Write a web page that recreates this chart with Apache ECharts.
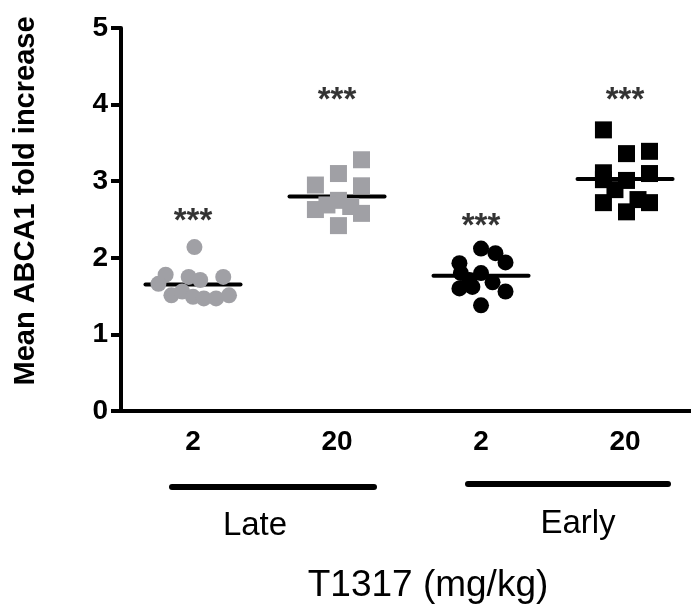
<!DOCTYPE html>
<html>
<head>
<meta charset="utf-8">
<script src="https://cdn.jsdelivr.net/npm/echarts@6/dist/echarts.min.js"></script>
<style>
  html, body { margin: 0; padding: 0; background: #fff; }
  #chart { width: 691px; height: 605px; }
</style>
</head>
<body>
<div id="chart"></div>
<script>
// Dose labels under each column and the two treatment groups
const doseLabels = ['2', '20', '2', '20'];
const groupLabels = ['Late', 'Early'];
const yTicks = [0, 1, 2, 3, 4, 5];

// ABCA1 fold increase per animal, with horizontal spread within each column
const late2Values  = [2.14, 1.78, 1.75, 1.71, 1.75, 1.66, 1.51, 1.56, 1.49, 1.47, 1.47, 1.51];
const late2Spread  = [0.01, -0.19, -0.03, 0.05, 0.21, -0.24, -0.15, -0.075, 0.0, 0.075, 0.16, 0.25];
const late20Values = [3.28, 3.10, 2.95, 2.94, 2.75, 2.63, 2.69, 2.67, 2.58, 2.42];
const late20Spread = [0.17, 0.01, -0.15, 0.17, 0.01, -0.15, -0.07, 0.095, 0.17, 0.01];
const early2Values = [2.12, 2.06, 1.94, 1.93, 1.80, 1.80, 1.71, 1.60, 1.62, 1.68, 1.56, 1.38];
const early2Spread = [0.0, 0.10, 0.17, -0.15, 0.0, -0.14, -0.08, -0.15, -0.06, 0.08, 0.17, 0.0];
const early20Values = [3.67, 3.36, 3.39, 3.11, 3.10, 3.01, 3.02, 2.89, 2.76, 2.72, 2.72, 2.60];
const early20Spread = [-0.15, 0.01, 0.17, -0.15, 0.17, 0.01, -0.15, -0.07, 0.09, -0.15, 0.17, 0.01];

// Significance marks above each column
const sigText = ['***', '***', '***', '***'];
const sigLevel = [2.59, 4.16, 2.52, 4.16];

const columns = [
  { values: late2Values,  spread: late2Spread,  symbol: 'circle', color: '#a0a0a5' },
  { values: late20Values, spread: late20Spread, symbol: 'rect',   color: '#a0a0a5' },
  { values: early2Values, spread: early2Spread, symbol: 'circle', color: '#000000' },
  { values: early20Values, spread: early20Spread, symbol: 'rect', color: '#000000' }
];

const FONT = '"Liberation Sans", Arial, sans-serif';
const chart = echarts.init(document.getElementById('chart'));

const series = [];
columns.forEach((col, i) => {
  const mean = col.values.reduce((a, b) => a + b, 0) / col.values.length;
  // mean bar
  series.push({
    type: 'line',
    data: [[i - 0.33, mean], [i + 0.33, mean]],
    symbol: 'none',
    lineStyle: { color: '#000', width: 4, cap: 'round' },
    z: 2,
    silent: true
  });
  // individual animals
  series.push({
    type: 'scatter',
    data: col.values.map((v, k) => [i + col.spread[k], v]),
    symbol: col.symbol,
    symbolSize: col.symbol === 'rect' ? 17 : 16,
    itemStyle: { color: col.color, opacity: 1 },
    z: 3,
    silent: true
  });
});

// significance asterisks
series.push({
  type: 'scatter',
  data: sigLevel.map((v, i) => [i, v]),
  symbolSize: 0,
  silent: true,
  label: {
    show: true,
    position: 'inside',
    offset: [0, 9],
    formatter: p => sigText[p.dataIndex],
    fontFamily: FONT,
    fontWeight: 'bold',
    fontSize: 33,
    color: '#000'
  }
});

chart.setOption({
  animation: false,
  backgroundColor: '#fff',
  grid: { left: 121, right: 0, top: 28, bottom: 194, containLabel: false },
  xAxis: {
    type: 'value',
    min: -0.5,
    max: 3.458,
    axisLine: { show: true, onZero: false, lineStyle: { color: '#000', width: 4 } },
    axisTick: { show: false },
    splitLine: { show: false },
    axisLabel: {
      customValues: [0, 1, 2, 3],
      formatter: v => doseLabels[Math.round(v)],
      fontFamily: FONT,
      fontWeight: 'bold',
      fontSize: 28,
      color: '#000',
      margin: 17
    }
  },
  yAxis: {
    type: 'value',
    min: 0,
    max: 5,
    interval: 1,
    axisLine: { show: true, onZero: false, lineStyle: { color: '#000', width: 4 } },
    axisTick: { show: true, length: 10, lineStyle: { color: '#000', width: 4 } },
    splitLine: { show: false },
    axisLabel: {
      formatter: v => String(yTicks[Math.round(v)]),
      fontFamily: FONT,
      fontWeight: 'bold',
      fontSize: 28,
      color: '#000',
      margin: 13
    }
  },
  series: series,
  graphic: [
    { type: 'text', x: 26, y: 201, rotation: Math.PI / 2,
      style: { text: 'Mean ABCA1 fold increase', font: 'bold 29px ' + FONT, fill: '#000', align: 'center', verticalAlign: 'middle' } },
    { type: 'line', shape: { x1: 172, y1: 487, x2: 374, y2: 487 },
      style: { stroke: '#000', lineWidth: 6, lineCap: 'round' } },
    { type: 'line', shape: { x1: 468, y1: 484, x2: 668, y2: 484 },
      style: { stroke: '#000', lineWidth: 6, lineCap: 'round' } },
    { type: 'text', x: 255, y: 526,
      style: { text: groupLabels[0], font: '33px ' + FONT, fill: '#000', align: 'center', verticalAlign: 'middle' } },
    { type: 'text', x: 578, y: 524,
      style: { text: groupLabels[1], font: '33px ' + FONT, fill: '#000', align: 'center', verticalAlign: 'middle' } },
    { type: 'text', x: 428, y: 586,
      style: { text: 'T1317 (mg/kg)', font: '37px ' + FONT, fill: '#000', align: 'center', verticalAlign: 'middle' } }
  ]
});
</script>
</body>
</html>
